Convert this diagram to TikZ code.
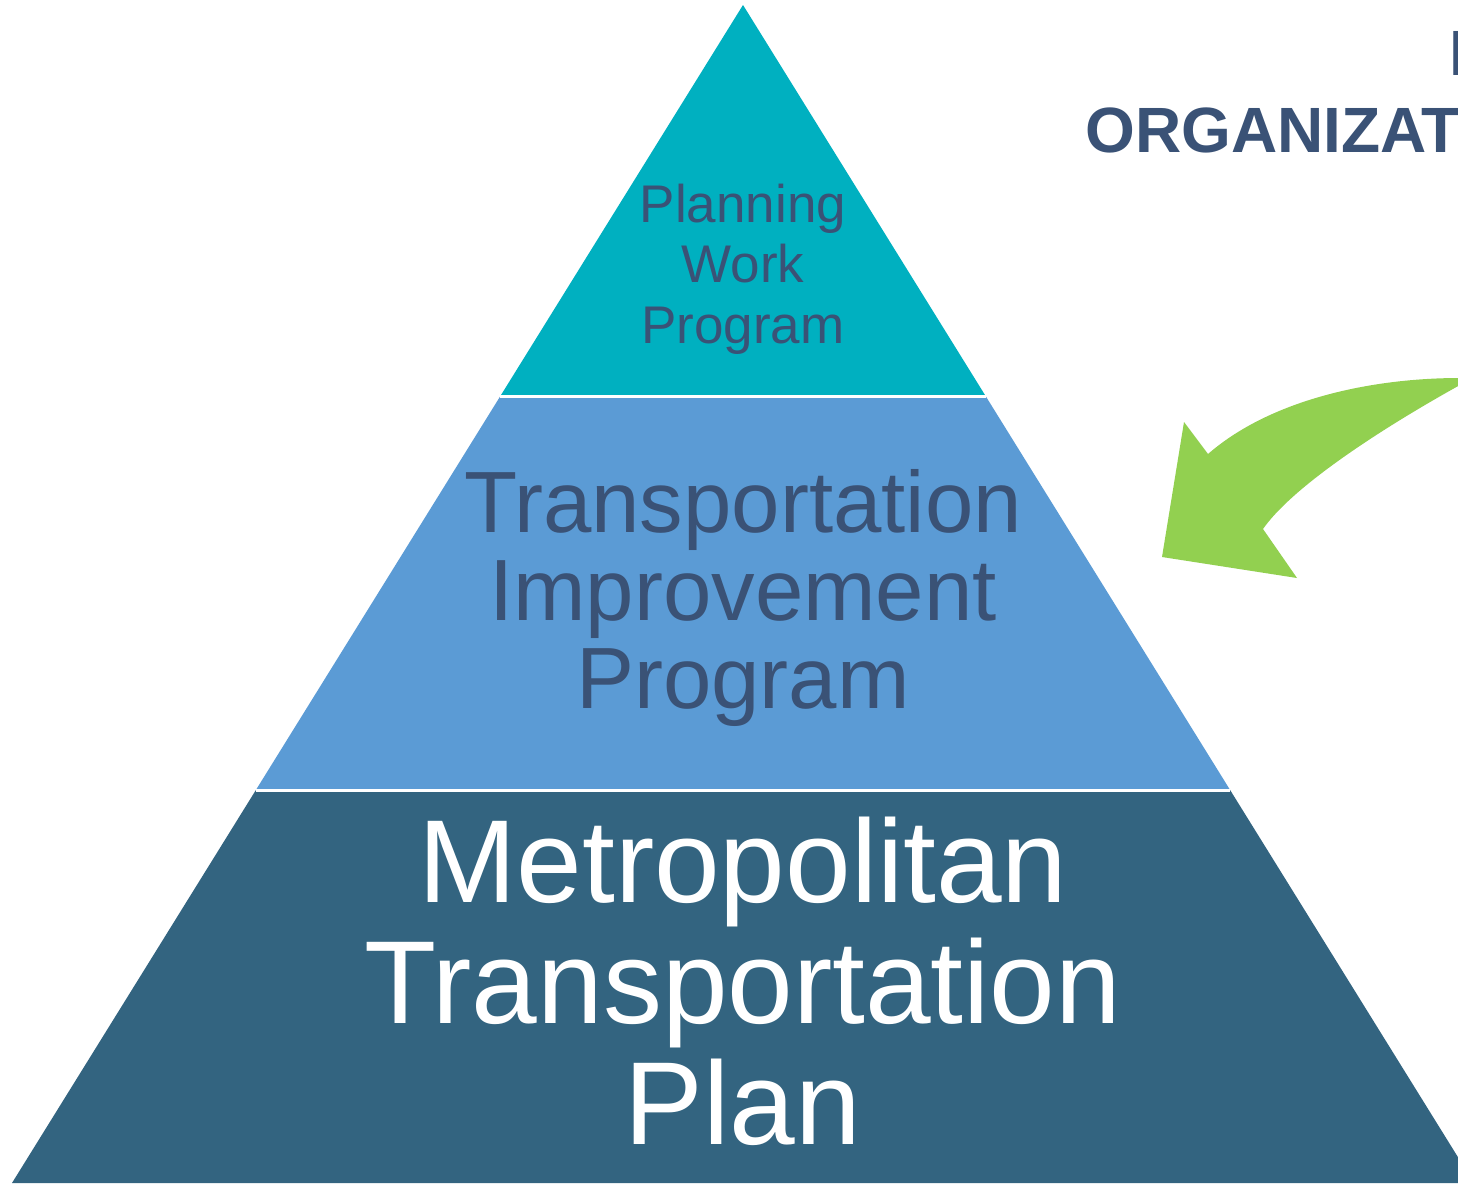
\documentclass[tikz,border=0pt]{standalone}
\usepackage{fontspec}
\setmainfont{Liberation Sans}
\usepackage{xcolor}
\usepackage{tikz}
\usetikzlibrary{scopes}

\definecolor{upwpteal}{HTML}{00B0C0}
\definecolor{tipblue}{HTML}{5B9BD5}
\definecolor{mtpslate}{HTML}{336480}
\definecolor{inkblue}{HTML}{3A5276}
\definecolor{arrowgreen}{HTML}{92D050}

\begin{document}
\begin{tikzpicture}[x=1pt,y=-1pt,
      tier/.style={draw=white,line width=3pt,line join=miter},
      tiertext/.style={align=center,inner sep=0pt,anchor=base},
      heading/.style={font=\fontsize{64}{77}\selectfont\bfseries,text=inkblue,inner sep=0pt,anchor=base west}
]
      \useasboundingbox[fill=white] (0,0) rectangle (1458,1183);
      % pyramid corners
      \coordinate (apex) at (743,5);
      \coordinate (tl) at (500.4,396);
      \coordinate (tr) at (985.6,396);
      \coordinate (ml) at (255.9,790);
      \coordinate (mr) at (1230.1,790);
      \coordinate (bl) at (12,1183);
      \coordinate (br) at (1474,1183);
      {[tier]
          \fill[mtpslate] (ml) -- (mr) -- (br) -- (bl) -- cycle;
          \fill[tipblue] (tl) -- (tr) -- (mr) -- (ml) -- cycle;
          \fill[upwpteal] (apex) -- (tr) -- (tl) -- cycle;
          \draw (tl) -- (tr);
          \draw (ml) -- (mr);
      }
      % base anchor sits on the last line
      \node[tiertext,text=inkblue,font=\fontsize{53}{60.5}\selectfont] (upwp) at (743,343) {Planning\\Work\\Program};
      \node[tiertext,text=inkblue,font=\fontsize{87}{88}\selectfont] (tip) at (743,708) {Transportation\\Improvement\\Program};
      \node[tiertext,text=white,font=\fontsize{118}{121}\selectfont] (mtp) at (743,1144) {Metropolitan\\Transportation\\Plan};
      % heading, cut by the page edge
      \node[heading] (head1) at (1449,75) {I};
      \node[heading] (head2) at (1085,152) {ORGANIZAT};
      % curved arrow
      \fill[arrowgreen] (1162,557) -- (1184,422) -- (1208,454)
          .. controls (1270,400) and (1370,378) .. (1460,378)
          -- (1460,385)
          .. controls (1370,435) and (1290,490) .. (1263,529)
          -- (1297,578) -- cycle;
\end{tikzpicture}
\end{document}
